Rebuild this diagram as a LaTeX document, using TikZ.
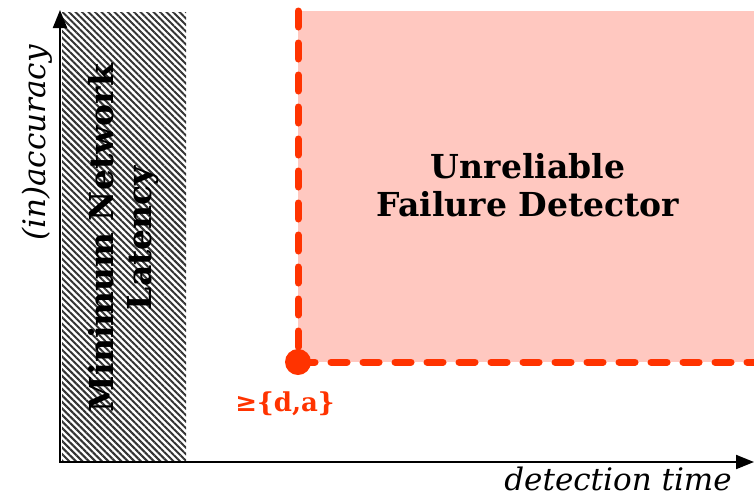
\documentclass[tikz,border=0pt]{standalone}
\usepackage{fontspec}
\setmainfont{DejaVu Serif}
\usetikzlibrary{patterns.meta,arrows.meta}
\definecolor{fdred}{HTML}{FF3300}
\definecolor{fdpink}{HTML}{FFC8C0}
\tikzset{
  axisline/.style={line width=2pt,-{Triangle[length=18pt,width=14pt]}},
  bordline/.style={draw=fdred,line width=7pt,line cap=round,dash pattern=on 16pt off 16pt},
  boldlbl/.style={font=\fontsize{33}{38}\selectfont\bfseries,align=center},
  axislbl/.style={font=\fontsize{31}{34}\selectfont\itshape}
}
\begin{document}
\begin{tikzpicture}[x=1pt,y=-1pt]
  \useasboundingbox (0,0) rectangle (754,496);
  % latency band
  \fill[pattern={Lines[angle=-45,distance=4.6pt,line width=2pt]},pattern color=black!80]
    (62,12) rectangle (186,460);
  % unreliable region
  \fill[fdpink] (298,11) rectangle (760,362);
  \draw[bordline] (298,11) -- (298,362) -- (760,362);
  \fill[fdred] (298,362) circle (13);
  % axes
  \coordinate (o) at (60,462);
  \coordinate (ytip) at (60,10);
  \coordinate (xtip) at (754,462);
  \draw[axisline] (o) -- (ytip);
  \draw[axisline] ([xshift=-1pt]o) -- (xtip);
  % labels
  \node[boldlbl,rotate=90] (mnl) at (124,238) {Minimum Network\\Latency};
  \node[boldlbl] (ufd) at (528,185) {Unreliable\\Failure Detector};
  \node[font=\fontsize{26}{30}\selectfont\bfseries,text=fdred] (da) at (285,404) {≥\{d,a\}};
  \node[axislbl,rotate=90] (ya) at (37,143) {(in)accuracy};
  \node[axislbl,inner sep=0pt,anchor=base] (xa) at (618,490) {detection time};
\end{tikzpicture}
\end{document}
